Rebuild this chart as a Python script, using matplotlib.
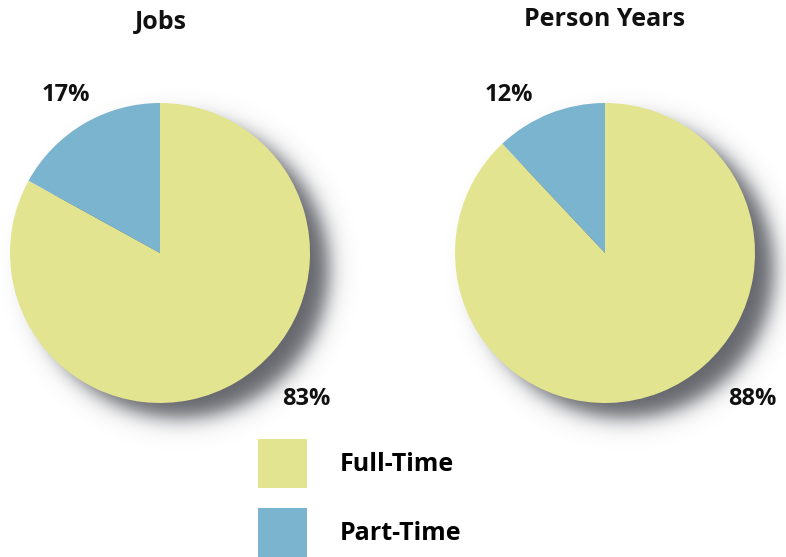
import numpy as np
import matplotlib
matplotlib.use("Agg")
import matplotlib.pyplot as plt
from matplotlib.patches import Patch

plt.rcParams['font.family'] = ['Open Sans', 'DejaVu Sans']

categories = ["Full-Time", "Part-Time"]
titles = ["Jobs", "Person Years"]
jobs = [83, 17]
person_years = [88, 12]
series = [jobs, person_years]
colors = ["#E3E490", "#7BB4CF"]

W, H = 786, 557
fig = plt.figure(figsize=(W / 100, H / 100), dpi=100)
ax = fig.add_axes([0, 0, 1, 1])

centers = [(160, H - 253), (605, H - 253)]
R = 150

# soft drop shadow
xs = np.arange(W) + 0.5
ys = np.arange(H) + 0.5
X, Y = np.meshgrid(xs, ys)
alpha = np.zeros_like(X)
dx, dy, s = 20, 16, 12
for cx, cy in centers:
    d = np.hypot(X - (cx + dx), Y - (cy - dy))
    a = 0.9 * 0.5 * (1 - np.tanh((d - (R - 1)) / s))
    alpha = np.maximum(alpha, a)
img = np.zeros((H, W, 4))
img[..., 0] = 0.32
img[..., 1] = 0.33
img[..., 2] = 0.36
img[..., 3] = alpha
ax.imshow(img, extent=(0, W, 0, H), origin="lower", zorder=0, interpolation="bilinear")

label_pos = [[(306, H - 399), (66, H - 95)], [(752, H - 399), (509, H - 95)]]
title_pos = [(161, H - 22), (605, H - 19)]

for vals, c, t, tp, lp in zip(series, centers, titles, title_pos, label_pos):
    wedges, _ = ax.pie(vals, colors=colors, startangle=90, counterclock=False,
                       center=c, radius=R, wedgeprops=dict(linewidth=0))
    for w in wedges:
        w.set_zorder(2)
    ax.text(tp[0], tp[1], t, ha="center", va="center", fontsize=18,
            fontweight="bold", color="#111111")
    for v, p in zip(vals, lp):
        ax.text(p[0], p[1], f"{v}%", ha="center", va="center", fontsize=17,
                fontweight="bold", color="#111111", zorder=3)

handles = [Patch(facecolor=col, edgecolor="none") for col in colors]
fs = 18
fspx = fs * 100 / 72
leg = ax.legend(handles, categories, loc="upper left",
                bbox_to_anchor=(258 / W, 1 - 439 / H), bbox_transform=fig.transFigure,
                frameon=False, prop=dict(weight="bold", size=fs),
                handlelength=49 / fspx, handleheight=(49 / fspx - 0.245) / 0.65,
                handletextpad=33 / fspx, labelspacing=20 / fspx,
                borderpad=0, borderaxespad=0)

ax.set_xlim(0, W)
ax.set_ylim(0, H)
ax.set_aspect("equal")
ax.axis("off")

fig.savefig("out.png", dpi=100, facecolor="white")
